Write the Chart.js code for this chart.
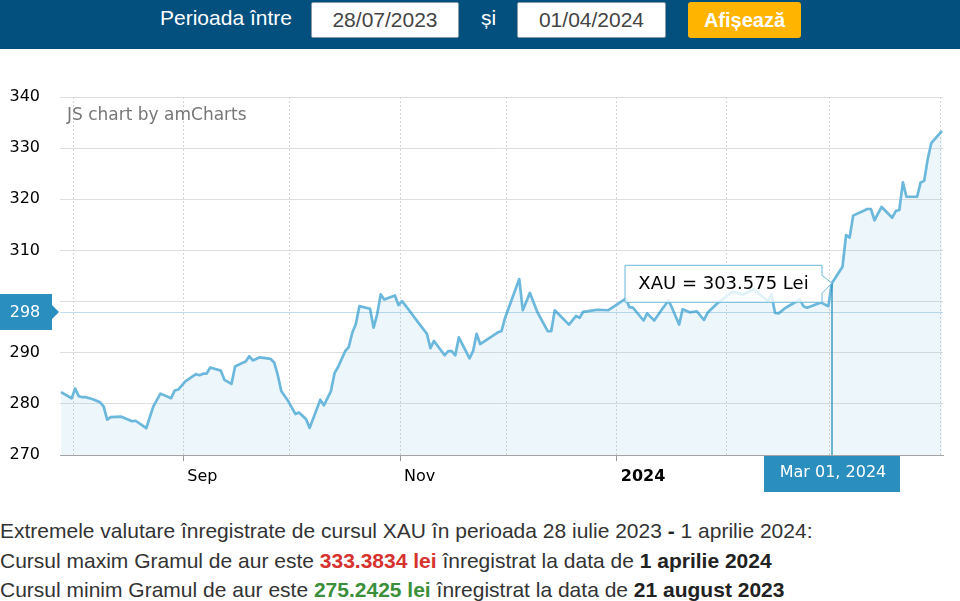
<!DOCTYPE html>
<html>
<head>
<meta charset="utf-8">
<script src="https://cdn.jsdelivr.net/npm/chart.js@4.4.1/dist/chart.umd.min.js"></script>
<style>
body{margin:0;width:960px;height:601px;background:#fff;position:relative;overflow:hidden;font-family:"Liberation Sans",Arial,sans-serif}
#bar{position:absolute;left:0;top:0;width:960px;height:49px;background:#03507f}
.lbl{position:absolute;top:6px;color:#fff;font-size:21px}
.inp{position:absolute;top:2px;height:34px;background:#fff;border:1px solid #8a9aa6;border-radius:2px;color:#444;font-size:21px;line-height:34px;text-align:center}
#btn{position:absolute;left:688px;top:2px;width:113px;height:36px;background:#ffb400;border-radius:3px;color:#fff;font-size:20px;font-weight:bold;line-height:36px;text-align:center}
#wrap{position:absolute;left:0;top:48px;width:960px;height:452px}
#credit{position:absolute;left:67px;top:104px;font-family:"DejaVu Sans",Verdana,sans-serif;font-size:17px;color:#777}
.info{position:absolute;left:0;font-size:21px;color:#333;white-space:nowrap}
.info b{color:#222}
.red{color:#d6322e;font-weight:bold}
.green{color:#3b8f3a;font-weight:bold}
</style>
</head>
<body>
<div id="bar">
  <div class="lbl" style="left:160px">Perioada între</div>
  <div class="inp" style="left:311px;width:146px">28/07/2023</div>
  <div class="lbl" style="left:481px">și</div>
  <div class="inp" style="left:517px;width:147px">01/04/2024</div>
  <div id="btn">Afișează</div>
</div>
<div id="wrap"><canvas id="myChart" width="960" height="452"></canvas></div>
<div id="credit">JS chart by amCharts</div>
<div class="info" style="top:516px;line-height:29.5px">
Extremele valutare înregistrate de cursul XAU în perioada 28 iulie 2023 <b>-</b> 1 aprilie 2024:<br>
Cursul maxim Gramul de aur este <span class="red">333.3834 lei</span> înregistrat la data de <b>1 aprilie 2024</b><br>
Cursul minim Gramul de aur este <span class="green">275.2425 lei</span> înregistrat la data de <b>21 august 2023</b>
</div>
<script>
// gold price (lei / gram)
const dates = [
  '2023-07-28','2023-07-31','2023-08-01','2023-08-02','2023-08-03','2023-08-04','2023-08-06','2023-08-08',
  '2023-08-09','2023-08-10','2023-08-11','2023-08-14','2023-08-15','2023-08-17','2023-08-18','2023-08-21',
  '2023-08-23','2023-08-25','2023-08-28','2023-08-29','2023-08-30','2023-09-01','2023-09-04','2023-09-05',
  '2023-09-06','2023-09-07','2023-09-08','2023-09-11','2023-09-12','2023-09-14','2023-09-15','2023-09-17',
  '2023-09-18','2023-09-19','2023-09-20','2023-09-22','2023-09-25','2023-09-26','2023-09-27','2023-09-28',
  '2023-09-30','2023-10-02','2023-10-03','2023-10-05','2023-10-06','2023-10-09','2023-10-10','2023-10-12',
  '2023-10-13','2023-10-14','2023-10-16','2023-10-17','2023-10-18','2023-10-19','2023-10-20','2023-10-23',
  '2023-10-24','2023-10-25','2023-10-26','2023-10-27','2023-10-30','2023-10-31','2023-11-01','2023-11-03',
  '2023-11-06','2023-11-08','2023-11-09','2023-11-10','2023-11-13','2023-11-14','2023-11-15','2023-11-16',
  '2023-11-17','2023-11-20','2023-11-21','2023-11-22','2023-11-23','2023-11-28','2023-11-29','2023-11-30',
  '2023-12-04','2023-12-05','2023-12-07','2023-12-09','2023-12-12','2023-12-13','2023-12-14','2023-12-18',
  '2023-12-20','2023-12-21','2023-12-22','2023-12-26','2023-12-29','2024-01-03','2024-01-04','2024-01-05',
  '2024-01-08','2024-01-09','2024-01-11','2024-01-13','2024-01-15','2024-01-16','2024-01-18','2024-01-19',
  '2024-01-21','2024-01-23','2024-01-25','2024-01-26','2024-01-29','2024-02-02','2024-02-05','2024-02-08',
  '2024-02-12','2024-02-13','2024-02-14','2024-02-15','2024-02-17','2024-02-21','2024-02-22','2024-02-23',
  '2024-02-27','2024-02-29','2024-03-01','2024-03-04','2024-03-05','2024-03-06','2024-03-07','2024-03-11',
  '2024-03-12','2024-03-13','2024-03-15','2024-03-18','2024-03-19','2024-03-20','2024-03-21','2024-03-22',
  '2024-03-25','2024-03-26','2024-03-27','2024-03-28','2024-03-29','2024-04-01'
];
const xau = [
  282.3, 281.1, 283.0, 281.5, 281.3, 281.3, 280.9, 280.3,
  279.5, 276.9, 277.4, 277.5, 277.2, 276.6, 276.7, 275.2425,
  279.5, 282.0, 281.1, 282.6, 282.8, 284.4, 285.8, 285.6,
  285.9, 285.9, 287.1, 286.5, 284.7, 283.9, 287.3, 288.0,
  288.3, 289.3, 288.5, 289.1, 288.8, 288.1, 285.7, 282.5,
  280.5, 278.0, 278.3, 277.0, 275.3, 280.8, 279.7, 282.5,
  286.0, 287.2, 290.3, 291.1, 293.9, 295.6, 299.1, 298.6,
  294.9, 297.5, 301.4, 300.4, 301.2, 299.3, 300.1, 298.3,
  295.5, 293.7, 290.9, 292.3, 289.5, 290.3, 290.3, 289.5,
  293.0, 288.9, 290.3, 293.7, 291.7, 294.0, 294.2, 296.8,
  304.4, 298.3, 301.7, 298.1, 294.2, 294.2, 298.3, 295.5,
  297.2, 296.8, 298.0, 298.4, 298.3, 300.6, 298.9, 298.8,
  296.3, 297.7, 296.3, 298.3, 300.2, 298.8, 295.5, 298.5,
  297.9, 298.1, 296.4, 297.8, 299.8, 301.9, 301.4, 302.4,
  300.1, 301.4, 297.8, 297.7, 298.8, 300.4, 299.1, 298.8,
  299.8, 299.1, 303.575, 306.8, 313.0, 312.5, 316.8, 318.1,
  318.1, 315.9, 318.5, 316.4, 317.7, 317.9, 323.3, 320.5,
  320.5, 323.3, 323.6, 327.9, 331.0, 333.3834
];
const monthTicks = ['2023-08-01','2023-09-01','2023-10-01','2023-11-01','2023-12-01','2024-01-01','2024-02-01','2024-03-01','2024-04-01'];
const monthLabels = ['', 'Sep', '', 'Nov', '', '2024', '', 'Mar', ''];
const yMin = 270, yMax = 340, yStep = 10;

// cursor state shown in the screenshot
const cursorDate = '2024-03-01';
const cursorValue = 303.575;
const cursorY = 298;
const cursorLabel = 'Mar 01, 2024';

const startDate = '2023-07-28';
const pointTime = 0.55; // points sit later in their day
function dayOf(s){
  const p = s.split('-').map(Number), q = startDate.split('-').map(Number);
  return (Date.UTC(p[0], p[1]-1, p[2]) - Date.UTC(q[0], q[1]-1, q[2])) / 864e5;
}

const lineColor = '#6bb8dc';
const cursorColor = '#2a8ebf';

const cursorPlugin = {
  id: 'cursor',
  afterDraw(chart){
    const {ctx, chartArea: a, scales: {x, y}} = chart;
    const px = Math.round(x.getPixelForValue(dayOf(cursorDate) + pointTime));
    const py = y.getPixelForValue(cursorValue);
    const hy = Math.round(y.getPixelForValue(cursorY));
    ctx.save();
    // horizontal cursor line
    ctx.strokeStyle = 'rgba(42,142,191,0.3)';
    ctx.lineWidth = 1;
    ctx.beginPath(); ctx.moveTo(a.left, hy + 0.5); ctx.lineTo(a.right, hy + 0.5); ctx.stroke();
    // vertical cursor line
    ctx.strokeStyle = cursorColor;
    ctx.lineWidth = 1.3;
    ctx.beginPath(); ctx.moveTo(px, py); ctx.lineTo(px, a.bottom); ctx.stroke();

    // value label on y axis
    ctx.fillStyle = cursorColor;
    ctx.beginPath();
    ctx.moveTo(0, hy - 18); ctx.lineTo(52, hy - 18); ctx.lineTo(52, hy - 7);
    ctx.lineTo(59, hy); ctx.lineTo(52, hy + 7); ctx.lineTo(52, hy + 18); ctx.lineTo(0, hy + 18);
    ctx.closePath(); ctx.fill();
    ctx.fillStyle = '#fff';
    ctx.font = '16px "DejaVu Sans", Verdana, sans-serif';
    ctx.textAlign = 'center'; ctx.textBaseline = 'middle';
    ctx.fillText(String(cursorY), 25, hy + 1);

    // date label under x axis
    ctx.fillStyle = cursorColor;
    ctx.fillRect(px - 68, a.bottom + 1, 136, 36);
    ctx.fillStyle = '#fff';
    ctx.fillText(cursorLabel, px + 1, a.bottom + 18);

    // balloon
    const bw = 197, bh = 37, r = px - 10, l = r - bw, t = py - 18;
    ctx.beginPath();
    ctx.moveTo(l, t); ctx.lineTo(r, t); ctx.lineTo(r, py - 8); ctx.lineTo(px, py);
    ctx.lineTo(r, py + 10); ctx.lineTo(r, t + bh); ctx.lineTo(l, t + bh); ctx.closePath();
    ctx.fillStyle = 'rgba(255,255,255,0.8)';
    ctx.fill();
    ctx.strokeStyle = lineColor; ctx.lineWidth = 1;
    ctx.stroke();
    ctx.fillStyle = '#000';
    ctx.font = '18px "DejaVu Sans", Verdana, sans-serif';
    ctx.fillText('XAU = ' + cursorValue + ' Lei', (l + r) / 2, py + 1);
    ctx.restore();
  }
};

const ctx = document.getElementById('myChart').getContext('2d');
const points = dates.map((d, i) => ({x: dayOf(d) + pointTime, y: xau[i]}));
const graphData = {
  type: 'line',
  data: {
    datasets: [{
      label: 'XAU',
      data: points,
      borderColor: lineColor,
      backgroundColor: 'rgba(103,183,220,0.12)',
      borderWidth: 2.7,
      borderJoinStyle: 'round',
      fill: 'start',
      pointRadius: 0,
      tension: 0
    }]
  },
  options: {
    responsive: false,
    animation: false,
    layout: {padding: {top: 49, right: 17, left: 0, bottom: 0}},
    plugins: {legend: {display: false}, tooltip: {enabled: false}},
    scales: {
      x: {
        type: 'linear',
        min: 0.27,
        max: 248.84,
        afterFit: s => { s.height = 45; },
        afterBuildTicks: s => { s.ticks = monthTicks.map(d => ({value: dayOf(d)})); },
        grid: {
          color: '#d6d6d6',
          lineWidth: 1,
          drawTicks: true,
          tickLength: 6,
          tickColor: c => monthLabels[c.index] ? '#999' : 'rgba(0,0,0,0)',
          tickBorderDash: []
        },
        border: {display: true, color: '#a3a3a3', width: 1, dash: [2, 2]},
        ticks: {
          autoSkip: false,
          maxRotation: 0,
          align: 'start',
          labelOffset: 4,
          padding: 6,
          color: '#000',
          font: c => ({family: '"DejaVu Sans", Verdana, sans-serif', size: 16, weight: monthLabels[c.index] === '2024' ? 'bold' : 'normal'}),
          callback: (v, i) => monthLabels[i]
        }
      },
      y: {
        min: yMin,
        max: yMax,
        afterFit: s => { s.width = 60; },
        grid: {color: '#dedede', lineWidth: 1, drawTicks: false},
        border: {display: false},
        ticks: {
          stepSize: yStep,
          padding: 20,
          color: '#000',
          font: {family: '"DejaVu Sans", Verdana, sans-serif', size: 16}
        }
      }
    }
  },
  plugins: [cursorPlugin]
};
const myChart = new Chart(ctx, graphData);
</script>
</body>
</html>
